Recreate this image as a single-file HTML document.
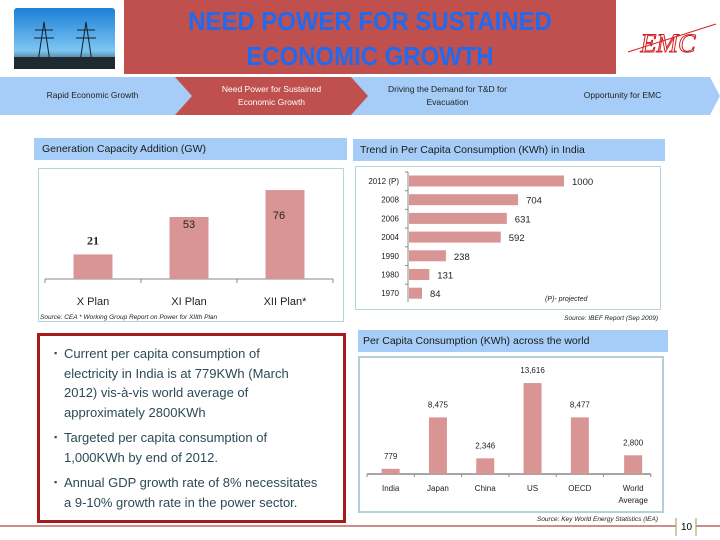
<!DOCTYPE html>
<html><head><meta charset="utf-8">
<style>
body{margin:0;width:720px;height:540px;background:#fff;position:relative;overflow:hidden;font-family:"Liberation Sans",sans-serif}
.abs{position:absolute}
.hdr{position:absolute;background:#a6cdf7;color:#1a1a1a;font-size:10.5px;line-height:22px;padding-left:8px;box-sizing:border-box}
.box{position:absolute;border:1px solid #b9d3dc;box-sizing:border-box}
.bl{font-size:13px;color:#2c4a56;line-height:19.5px;padding-left:16px;text-indent:-10px;margin:0 0 6px 0;white-space:nowrap}
.bl:before{content:"▪";font-size:9px;display:inline-block;width:10px;text-indent:0;vertical-align:2px}
</style></head><body>
<svg class="abs" style="left:0;top:0" width="720" height="540">
 <defs><linearGradient id="sky" x1="0" y1="0" x2="0" y2="1"><stop offset="0" stop-color="#1b7fd6"/><stop offset="0.7" stop-color="#7ec6f2"/><stop offset="1" stop-color="#1e2a30"/></linearGradient></defs>
 <rect x="14" y="8" width="101" height="61" rx="3" fill="url(#sky)"/>
 <g stroke="#10202a" stroke-width="1" fill="none">
  <path d="M38 62 L44 22 L50 62 M35 30 L53 30 M34 38 L54 38"/>
  <path d="M80 62 L86 22 L92 62 M77 30 L95 30 M76 38 L96 38"/>
 </g>
 <rect x="14" y="57" width="101" height="12" fill="#1e2a30"/>
 <rect x="124" y="0" width="492" height="74" fill="#c0504d"/>
 <polygon points="0,77 710,77 720,96 710,115 0,115" fill="#a6cdf7"/>
 <polygon points="175,77 351,77 368,96 351,115 175,115 192,96" fill="#c0504d"/>
 <line x1="0" y1="526" x2="676" y2="526" stroke="#a01818" stroke-width="1"/>
 <line x1="696" y1="526" x2="720" y2="526" stroke="#a01818" stroke-width="1"/>
 <line x1="676" y1="518" x2="676" y2="536" stroke="#8ca35a"/><line x1="696" y1="518" x2="696" y2="536" stroke="#8ca35a"/>
 <g>
  <text x="668" y="52" text-anchor="middle" font-family="Liberation Serif" font-style="italic" font-size="26" fill="none" stroke="#d42020" stroke-width="1">EMC</text>
  <line x1="628" y1="52" x2="716" y2="24" stroke="#d42020" stroke-width="1"/>
 </g>
</svg>
<div class="abs" style="left:170px;top:4px;width:400px;text-align:center;color:#1f6af0;font-weight:bold;font-size:26px;line-height:35px;transform:scaleX(0.92);white-space:nowrap">NEED POWER FOR SUSTAINED<br>ECONOMIC GROWTH</div>
<div class="abs" style="left:20px;top:90px;width:145px;text-align:center;font-size:8.5px;color:#222">Rapid Economic Growth</div>
<div class="abs" style="left:199px;top:83px;width:145px;text-align:center;font-size:8.5px;color:#fff;line-height:13px">Need Power for Sustained<br>Economic Growth</div>
<div class="abs" style="left:375px;top:83px;width:145px;text-align:center;font-size:8.5px;color:#222;line-height:13px">Driving the Demand for T&amp;D for<br>Evacuation</div>
<div class="abs" style="left:550px;top:90px;width:145px;text-align:center;font-size:8.5px;color:#222">Opportunity for EMC</div>

<div class="hdr" style="left:34px;top:138px;width:313px">Generation Capacity Addition (GW)</div>
<div class="hdr" style="left:353px;top:139px;width:312px;padding-left:7px">Trend in Per Capita Consumption (KWh) in India</div>
<div class="hdr" style="left:358px;top:330px;width:310px;padding-left:5px">Per Capita Consumption (KWh) across the world</div>

<div class="box" style="left:38px;top:168px;width:306px;height:154px"></div>
<div class="box" style="left:355px;top:166px;width:306px;height:144px"></div>
<div class="box" style="left:358px;top:356px;width:306px;height:157px;border:2px solid #b2d0d8"></div>

<div class="abs" style="left:37px;top:333px;width:309px;height:190px;border:3px solid #a51a1a;box-sizing:border-box;padding:8px 6px 0 8px">
 <p class="bl">Current per capita consumption of<br>electricity in India is at 779KWh (March<br>2012) vis-à-vis world average of<br>approximately 2800KWh</p>
 <p class="bl">Targeted per capita consumption of<br>1,000KWh by end of 2012.</p>
 <p class="bl">Annual GDP growth rate of 8% necessitates<br>a 9-10% growth rate in the power sector.</p>
</div>

<svg id="c" class="abs" style="left:0;top:0" width="720" height="540"></svg>
<div class="abs" style="left:677px;top:522px;width:19px;text-align:center;font-size:10px">10</div>
<script>
const capCats=["X Plan","XI Plan","XII Plan*"];
const capVals=[21,53,76];
const trendCats=["2012 (P)","2008","2006","2004","1990","1980","1970"];
const trendVals=[1000,704,631,592,238,131,84];
const worldCats=["India","Japan","China","US","OECD","World|Average"];
const worldVals=[779,8475,2346,13616,8477,2800];
const worldLabels=["779","8,475","2,346","13,616","8,477","2,800"];

const svg=document.getElementById('c'),NS="http://www.w3.org/2000/svg";
function mk(t,a,txt){const e=document.createElementNS(NS,t);for(const k in a)e.setAttribute(k,a[k]);if(txt!=null)e.textContent=txt;svg.appendChild(e);return e;}
const BAR="#d99594",TXT="#222";

const cBase=279,cScale=1.17,cX0=45,cW=96;
const cy=v=>cBase-v*cScale;
let e=mk('line',{x1:cX0,y1:cBase,x2:cX0+cW*3,y2:cBase,stroke:"#888"});


for(let i=0;i<=3;i++)mk('line',{x1:cX0+cW*i,y1:cBase,x2:cX0+cW*i,y2:cBase+4,stroke:"#888"});
capCats.forEach((c,i)=>{
 const cx=cX0+cW*i+cW/2;
 const r=mk('rect',{x:cx-19.5,y:cy(capVals[i]),width:39,height:capVals[i]*cScale,fill:BAR});
 
 
 const inside=i>0;
 const ly=inside?cy(capVals[i])+(i==1?11:29):cy(capVals[i])-10;
 const l=mk('text',{x:cx+(i==2?-6:0),y:ly,'text-anchor':'middle','font-size':i==0?12:11,'font-weight':i==0?'bold':'normal','font-family':i==0?'Liberation Serif':'Liberation Sans',fill:TXT},String(capVals[i]));
 
 
 const t=mk('text',{x:cx,y:305,'text-anchor':'middle','font-size':11,fill:TXT},c);
 
 
});
e=mk('text',{x:40,y:319,'font-size':6.5,'font-style':'italic',fill:TXT},"Source:  CEA          * Working Group Report on Power for XIIth Plan");



const tX0=409,tScale=0.155,tY0=181,tStep=18.7;
e=mk('line',{x1:408,y1:172,x2:408,y2:302,stroke:"#888"});


trendCats.forEach((c,i)=>{
 const y=tY0+tStep*i;
 mk('line',{x1:405,y1:y-9,x2:408,y2:y-9,stroke:"#888"});
 const r=mk('rect',{x:tX0,y:y-5.5,width:trendVals[i]*tScale,height:11,fill:BAR});
 
 
 const t=mk('text',{x:399,y:y+3,'text-anchor':'end','font-size':8,fill:TXT},c);
 
 
 const v=mk('text',{x:tX0+trendVals[i]*tScale+8,y:y+4,'font-size':9.5,fill:TXT},String(trendVals[i]));
 
 
});
e=mk('text',{x:545,y:301,'font-size':7,'font-style':'italic',fill:TXT},"(P)- projected");


e=mk('text',{x:658,y:320,'text-anchor':'end','font-size':6.5,'font-style':'italic',fill:TXT},"Source:  IBEF Report (Sep 2009)");



const wBase=474,wScale=0.00668,wX0=367,wStep=47.3;
e=mk('line',{x1:wX0,y1:wBase,x2:wX0+wStep*6,y2:wBase,stroke:"#888",'stroke-width':1.5});


for(let i=0;i<=6;i++)mk('line',{x1:wX0+wStep*i,y1:wBase,x2:wX0+wStep*i,y2:wBase+3,stroke:"#888"});
worldCats.forEach((c,i)=>{
 const cx=wX0+wStep*i+wStep/2+(i==5?6:0);
 const h=worldVals[i]*wScale;
 const r=mk('rect',{x:cx-9,y:wBase-h,width:18,height:h,fill:BAR});
 
 
 const v=mk('text',{x:cx,y:wBase-h-10,'text-anchor':'middle','font-size':8,fill:TXT},worldLabels[i]);
 
 
 c.split('|').forEach((p,k)=>{
  const t=mk('text',{x:cx,y:491+k*12,'text-anchor':'middle','font-size':8,fill:TXT},p);
  
  
 });
});
e=mk('text',{x:658,y:521,'text-anchor':'end','font-size':6.5,'font-style':'italic',fill:TXT},"Source:  Key World Energy Statistics (IEA)");


</script>
</body></html>
